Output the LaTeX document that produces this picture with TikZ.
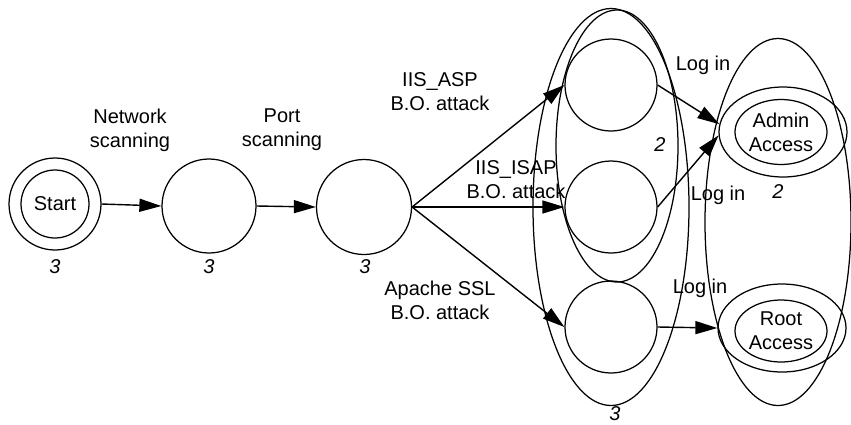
\documentclass[tikz,border=0pt]{standalone}
\usepackage{fontspec}
\setmainfont{Liberation Sans}
\usetikzlibrary{arrows.meta,shapes.geometric}
\begin{document}
\begin{tikzpicture}[x=1pt,y=-1pt,
  every node/.style={font=\fontsize{20}{24}\selectfont, align=center, inner sep=0pt},
  state/.style={circle, draw, line width=1.25pt},
  oval/.style={ellipse, draw, line width=1.25pt},
  count/.style={font=\fontsize{20}{24}\selectfont\itshape},
  arr/.style={-{Triangle[length=22pt,width=13pt]}, line width=1.4pt}
]
\useasboundingbox (0,0) rectangle (851,424);

% attack chain
\node[state, minimum size=92pt] (s0) at (55,204) {};
\node[state, minimum size=68pt] (s0i) at (55,204) {Start};
\node[state, minimum size=94pt] (s1) at (209,206) {};
\node[state, minimum size=95pt] (s2) at (364,207) {};

% buffer-overflow states and their groupings
\node[state, minimum size=92pt] (a1) at (611,85) {};
\node[state, minimum size=92pt] (a2) at (611,207) {};
\node[state, minimum size=92pt] (a3) at (611,327) {};
\node[oval, minimum width=122pt, minimum height=272pt] (g2) at (617,146) {};
\node[oval, minimum width=156pt, minimum height=397pt] (g3) at (611,207) {};

% privilege states
\node[oval, minimum width=128pt, minimum height=90pt] (adm) at (783,132) {};
\node[oval, minimum width=92pt, minimum height=65pt] (admi) at (781,132) {Admin\\Access};
\node[oval, minimum width=128pt, minimum height=88pt] (root) at (782,328) {};
\node[oval, minimum width=92pt, minimum height=62pt] (rooti) at (781,331) {Root\\Access};
\node[oval, minimum width=146pt, minimum height=367pt] (gR) at (778,222) {};

% transition labels
\node (l1) at (130,130) {Network\\scanning};
\node (l2) at (282,130) {Port\\scanning};
\node (l3) at (440,92) {IIS\_ASP\\B.O. attack};
\node (l4) at (516,180) {IIS\_ISAP\\B.O. attack};
\node (l5) at (440,300) {Apache SSL\\B.O. attack};
\node (l6) at (703,65) {Log in};
\node (l7) at (718,195) {Log in};
\node (l8) at (700,288) {Log in};

% counts
\node[count] (c0) at (55,267) {3};
\node[count] (c1) at (209,267) {3};
\node[count] (c2) at (365,267) {3};
\node[count] (c3) at (615,414) {3};
\node[count] (c4) at (660,145) {2};
\node[count] (c5) at (778,192) {2};

% transitions
\draw[arr] (s0.east) -- (s1.west);
\draw[arr] (s1.east) -- (s2.west);
\draw[arr] (s2.east) -- (a1.west);
\draw[arr] (s2.east) -- (a2.west);
\draw[arr] (s2.east) -- (a3.west);
\draw[arr] (a1.east) -- (adm.173);
\draw[arr] (a2.east) -- (adm.183);
\draw[arr] (a3.east) -- (root.west);
\end{tikzpicture}
\end{document}
